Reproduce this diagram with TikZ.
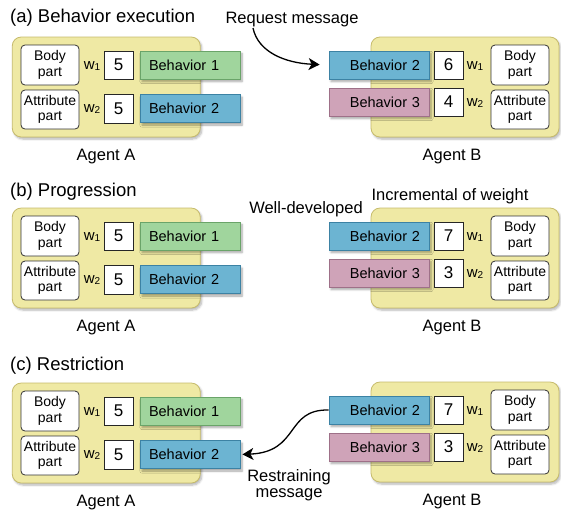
\documentclass[tikz,border=0pt]{standalone}
\usepackage{fontspec}
\setmainfont{Liberation Sans}
\usetikzlibrary{arrows.meta,shadows.blur}

\definecolor{agentfill}{HTML}{EFE9A4}
\definecolor{agentedge}{HTML}{C6BB6C}
\definecolor{behgreen}{HTML}{A0D59D}
\definecolor{behgreenedge}{HTML}{6AA469}
\definecolor{behblue}{HTML}{6CB4D2}
\definecolor{behblueedge}{HTML}{3C82A4}
\definecolor{behpink}{HTML}{CFA3B8}
\definecolor{behpinkedge}{HTML}{9E7088}

\tikzset{
  agent/.style={draw=agentedge, fill=agentfill, line width=0.8pt, rounded corners=9pt,
    minimum width=188pt, minimum height=100pt, inner sep=0pt,
    blur shadow={shadow xshift=1.5pt, shadow yshift=-2pt, shadow blur steps=6, shadow opacity=30}},
  part/.style={draw=black!80, fill=white, line width=0.8pt, rounded corners=4pt,
    minimum width=58pt, inner sep=0pt, align=center,
    font=\fontsize{14}{15.5}\selectfont},
  numbox/.style={draw=black!85, fill=white, line width=0.8pt, minimum width=29pt,
    minimum height=28pt, inner sep=0pt, font=\fontsize{17}{18}\selectfont},
  beh/.style={line width=0.8pt, text width=82pt, inner xsep=9pt, inner ysep=0pt,
    minimum height=28pt, font=\fontsize{14.5}{16}\selectfont,
    blur shadow={shadow xshift=2pt, shadow yshift=-2.5pt, shadow blur steps=6, shadow opacity=35}},
  behL/.style={beh, align=left},
  behR/.style={beh, align=right},
  green/.style={fill=behgreen, draw=behgreenedge},
  blue/.style={fill=behblue, draw=behblueedge},
  pink/.style={fill=behpink, draw=behpinkedge},
  wlabel/.style={inner sep=0pt, font=\fontsize{15}{16}\selectfont},
  caption/.style={inner sep=0pt, font=\fontsize{16.5}{18}\selectfont, align=center},
  paneltitle/.style={inner sep=0pt, anchor=base west, font=\fontsize{18.5}{20}\selectfont},
  msgarrow/.style={line width=1.3pt, -{Stealth[length=11pt, width=12pt, inset=3pt]}}
}

\newcommand{\wsub}[1]{w\raisebox{-1.5pt}{\fontsize{10}{10}\selectfont #1}}

% Agent A: #1 name prefix, #2 vertical offset
\newcommand{\drawagentA}[2]{%
  \begin{scope}[yshift=-#2pt]
    \node[agent] (#1A) at (106.25,87) {};
    \node[behL, green] (#1A1) at (190,65) {Behavior 1};
    \node[behL, blue]  (#1A2) at (190,108.5) {Behavior 2};
    \node[numbox] (#1An1) at (118.5,65) {5};
    \node[numbox, minimum height=29pt] (#1An2) at (118.5,108.5) {5};
    \node[wlabel] (#1Aw1) at (92,66) {\wsub{1}};
    \node[wlabel] (#1Aw2) at (92,109) {\wsub{2}};
    \node[part, minimum height=40pt] (#1Ab) at (50,65) {Body\\part};
    \node[part, minimum height=39pt] (#1Aa) at (50,109.5) {Attribute\\part};
    \node[caption] (#1Al) at (106,157) {Agent A};
  \end{scope}}

% Agent B: #1 name prefix, #2 vertical offset, #3 and #4 the weights
\newcommand{\drawagentB}[4]{%
  \begin{scope}[yshift=-#2pt]
    \node[agent] (#1B) at (465,87) {};
    \node[behR, blue] (#1B2) at (379,65) {Behavior 2};
    \node[behR, pink] (#1B3) at (379,102) {Behavior 3};
    \node[numbox] (#1Bn1) at (448.5,65) {#3};
    \node[numbox] (#1Bn2) at (448.5,102) {#4};
    \node[wlabel] (#1Bw1) at (475,66) {\wsub{1}};
    \node[wlabel] (#1Bw2) at (475,103) {\wsub{2}};
    \node[part, minimum height=40pt] (#1Bb) at (520,65) {Body\\part};
    \node[part, minimum height=39pt] (#1Ba) at (520,109.5) {Attribute\\part};
    \node[caption] (#1Bl) at (452,157) {Agent B};
  \end{scope}}

\begin{document}
\begin{tikzpicture}[x=1pt, y=-1pt]
  \useasboundingbox (0,0) rectangle (561,515);

  % (a) behavior execution
  \node[paneltitle] (ta) at (10,22) {(a) Behavior execution};
  \drawagentA{a}{0}
  \drawagentB{a}{0}{6}{4}
  \node[caption] (req) at (292,20) {Request message};
  \coordinate (reqstart) at (253,28);
  \draw[msgarrow, shorten >=9pt] (reqstart) .. controls (258,52) and (285,63) .. (aB2.west);

  % (b) progression
  \node[paneltitle] (tb) at (10,196) {(b) Progression};
  \drawagentA{b}{171}
  \drawagentB{b}{171}{7}{3}
  \node[caption] (well) at (306,209) {Well-developed};
  \node[caption] (incr) at (450,196) {Incremental of weight};

  % (c) restriction
  \node[paneltitle] (tc) at (10,370) {(c) Restriction};
  \drawagentA{c}{346}
  \drawagentB{c}{345}{7}{3}
  \node[caption] (restr) at (289,485) {Restraining\\[-2pt]message};
  \draw[msgarrow, shorten >=2pt] (cB2.west) .. controls (285,409) and (300,452) .. (cA2.east);
\end{tikzpicture}
\end{document}
